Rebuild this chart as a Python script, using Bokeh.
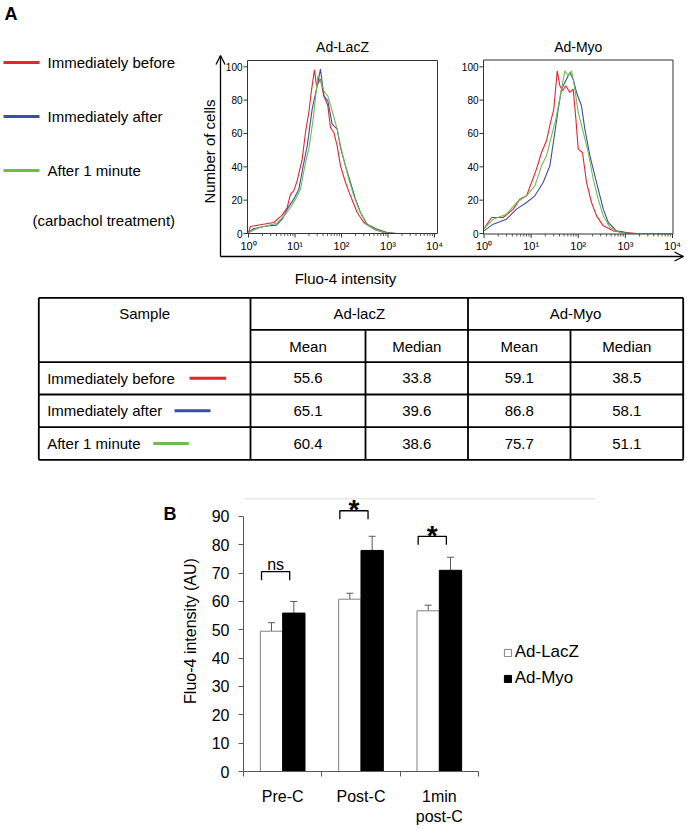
import math
from bokeh.plotting import figure
from bokeh.models import (Range1d, LogScale, LinearScale, Arrow, OpenHead, Legend, LegendItem,
                          FixedTicker, Whisker, TeeHead, ColumnDataSource)
from bokeh.layouts import column, row
from bokeh.embed import file_html
from bokeh.resources import INLINE
from bokeh.core.properties import value

FONT = "Liberation Sans"

# ---------------- data ----------------
series_names = ["Immediately before", "Immediately after", "After 1 minute"]
series_colors = ["#e0262e", "#3b4fa3", "#6fbd4b"]

# Panel Ad-LacZ histograms (Fluo-4 intensity, % of max cells)
lacz_before_x = [1.0, 1.1, 1.8, 3.5, 5.3, 6.8, 8.0, 9.4, 11.1, 14.3, 16.8, 19.8, 22.3, 26.2, 29.0,
                 35.3, 41.7, 50.8, 58.0, 68.4, 80.7, 95.1, 122, 156, 217, 302, 495, 813, 1334]
lacz_before_y = [0.6, 4.2, 5.2, 6.6, 11.0, 15.6, 23.6, 25.6, 31.6, 44.6, 60.6, 72.6, 84.6, 98.2, 88.6,
                 92.6, 82.6, 76.6, 63.6, 60.6, 52.6, 40.6, 30.6, 22.6, 12.6, 6.6, 2.6, 0.6, 0.0]
lacz_after_x = [1.0, 1.3, 2.5, 4.0, 5.3, 6.8, 9.4, 12.1, 15.5, 18.3, 23.4, 29.0, 35.3, 41.7, 50.8,
                63.0, 80.7, 95.1, 122, 156, 200, 256, 356, 585, 959, 1574]
lacz_after_y = [0.6, 3.0, 4.5, 5.0, 8.6, 14.6, 20.6, 26.6, 42.6, 52.6, 74.6, 86.6, 98.6, 82.6, 79.6,
                65.6, 62.6, 51.6, 40.6, 30.6, 20.6, 12.6, 5.6, 2.6, 0.6, 0.0]
lacz_1min_x = [1.0, 1.8, 4.1, 5.8, 8.0, 10.3, 13.1, 16.8, 19.8, 24.6, 31.0, 35.3, 43.1, 50.8, 63.0,
               80.7, 95.1, 116, 144, 184, 236, 328, 495, 959, 1574, 10000]
lacz_1min_y = [0.6, 3.8, 6.2, 10.6, 15.6, 20.6, 26.6, 42.6, 50.6, 68.6, 94.6, 91.6, 84.6, 82.6, 73.6,
               62.6, 52.6, 42.6, 32.6, 22.6, 14.6, 6.6, 2.6, 0.2, 0.0, 0.0]

# Panel Ad-Myo histograms
myo_before_x = [1.0, 1.44, 2.55, 4.16, 5.77, 7.98, 10.2, 13.0, 16.6, 21.2, 25.8, 30.3, 35.8, 40.7,
                46.5, 54.6, 66.4, 78.2, 89.1, 100, 123, 150, 191, 245, 340, 553, 1059, 1730]
myo_before_y = [3.0, 9.6, 9.6, 14.6, 20.6, 22.6, 30.6, 38.6, 48.6, 55.6, 66.6, 74.6, 97.6, 88.6,
                85.6, 88.6, 84.6, 86.6, 68.6, 50.6, 48.6, 30.6, 18.6, 10.6, 4.6, 1.6, 0.5, 0.0]
myo_after_x = [1.0, 1.57, 3.0, 4.9, 8.0, 12.0, 18.0, 25.0, 31.9, 37.6, 44.2, 52.0, 66.4, 78.2,
               92.0, 117, 138, 177, 208, 265, 340, 434, 650, 1247]
myo_after_y = [1.6, 5.6, 8.6, 14.6, 18.6, 22.6, 30.6, 40.6, 60.6, 74.6, 86.6, 90.6, 96.6, 92.6,
               84.6, 76.6, 62.6, 46.6, 38.6, 26.6, 14.6, 6.6, 1.6, 0.0]
myo_1min_x = [1.0, 1.57, 3.0, 4.9, 8.0, 12.0, 16.6, 21.2, 27.1, 33.5, 44.2, 52.0, 61.2, 72.1,
              84.7, 100, 128, 163, 208, 265, 340, 470, 766, 1247, 10000]
myo_1min_y = [3.0, 8.6, 11.6, 18.6, 22.6, 28.6, 40.6, 46.6, 58.6, 68.6, 86.6, 97.6, 94.6, 97.6,
              86.6, 72.6, 60.6, 48.6, 32.6, 20.6, 10.6, 3.6, 0.6, 0.0, 0.0]

hist_titles = ["Ad-LacZ", "Ad-Myo"]
hist_y_ticks = [0, 20, 40, 60, 80, 100]
hist_x_ticks = [1, 10, 100, 1000, 10000]
hist_x_labels = ["10\u2070", "10\u00b9", "10\u00b2", "10\u00b3", "10\u2074"]
hist_x_minor = [m * 10 ** k for k in range(4) for m in range(2, 10)]

# Table
table_groups = ["Ad-lacZ", "Ad-Myo"]
table_stats = ["Mean", "Median", "Mean", "Median"]
lacz_mean = [55.6, 65.1, 60.4]
lacz_median = [33.8, 39.6, 38.6]
myo_mean = [59.1, 86.8, 75.7]
myo_median = [38.5, 58.1, 51.1]

# Bar chart (B)
bar_categories = ["Pre-C", "Post-C", "1min\npost-C"]
bar_lacz = [49.5, 60.8, 56.7]
bar_lacz_err = [3.0, 2.1, 2.0]
bar_myo = [55.9, 78.0, 71.0]
bar_myo_err = [4.1, 5.0, 4.6]
sig_text = ["ns", "*", "*"]
sig_level = [70.5, 92.0, 83.0]
bar_y_ticks = [0, 10, 20, 30, 40, 50, 60, 70, 80, 90]

# ---------------- panel A canvas (reference pixel space) ----------------
PAGE_W = 687
A_TOP, A_BOT = 0, 490
A_H = A_BOT - A_TOP

pA = figure(width=PAGE_W, height=A_H, x_range=Range1d(0, PAGE_W), y_range=Range1d(A_BOT, A_TOP),
            x_axis_location=None, y_axis_location=None, min_border=0, toolbar_location=None,
            output_backend="svg", outline_line_color=None)
pA.frame_align = False
pA.grid.visible = False

COUNT_ZERO = 233.0
COUNT_PX = 1.667
pA.extra_y_ranges = {"cnt": Range1d((COUNT_ZERO - A_BOT) / COUNT_PX, (COUNT_ZERO - A_TOP) / COUNT_PX)}
pA.extra_y_scales = {"cnt": LinearScale()}

panels = [
    dict(key="lacz", title=hist_titles[0], left=247, right=437, top=60, bottom=233, d0=248, d4=434,
         curves=[(lacz_before_x, lacz_before_y), (lacz_after_x, lacz_after_y), (lacz_1min_x, lacz_1min_y)]),
    dict(key="myo", title=hist_titles[1], left=483, right=672.5, top=59.5, bottom=233.5, d0=483.5, d4=672,
         curves=[(myo_before_x, myo_before_y), (myo_after_x, myo_after_y), (myo_1min_x, myo_1min_y)]),
]
xr, xsc = {}, {}
for pn in panels:
    dpx = (pn["d4"] - pn["d0"]) / 4.0
    lo = (0 - pn["d0"]) / dpx
    hi = (PAGE_W - pn["d0"]) / dpx
    xr[pn["key"]] = Range1d(10 ** lo, 10 ** hi)
    xsc[pn["key"]] = LogScale()
pA.extra_x_ranges = xr
pA.extra_x_scales = xsc

txt = dict(text_font=value(FONT), text_color="black")

for pn in panels:
    k = pn["key"]
    for (cx, cy), col in zip(pn["curves"], series_colors):
        pA.line(cx, cy, x_range_name=k, y_range_name="cnt", line_color=col, line_width=1.1)
    pA.quad(left=[pn["left"]], right=[pn["right"]], top=[pn["top"]], bottom=[pn["bottom"]],
            fill_color=None, line_color="#333333", line_width=1)
    pA.segment(x0=hist_x_ticks, x1=hist_x_ticks, y0=[pn["bottom"]] * 5, y1=[pn["bottom"] + 4] * 5,
               x_range_name=k, line_color="#333333", line_width=1)
    pA.segment(x0=hist_x_minor, x1=hist_x_minor, y0=[pn["bottom"]] * len(hist_x_minor),
               y1=[pn["bottom"] + 2.5] * len(hist_x_minor), x_range_name=k, line_color="#333333", line_width=0.8)
    pA.text(x=hist_x_ticks, y=[pn["bottom"] + 12] * 5, text=hist_x_labels, x_range_name=k,
            text_align="center", text_baseline="middle", text_font_size="11px", **txt)
    pA.segment(x0=[pn["left"] - 4] * 6, x1=[pn["left"]] * 6, y0=hist_y_ticks, y1=hist_y_ticks,
               y_range_name="cnt", line_color="#333333", line_width=1)
    pA.text(x=[pn["left"] - 5] * 6, y=hist_y_ticks, text=[str(t) for t in hist_y_ticks], y_range_name="cnt",
            text_align="right", text_baseline="middle", text_font_size="10px", **txt)
    pA.text(x=[(pn["left"] + pn["right"]) / 2], y=[46], text=[pn["title"]],
            text_align="center", text_baseline="middle", text_font_size="14px", **txt)

# big axes arrows
pA.add_layout(Arrow(end=OpenHead(size=9, line_width=1.3, line_color="black"), x_start=220, y_start=256,
                    x_end=220, y_end=55, line_width=1.3, line_color="black"))
pA.add_layout(Arrow(end=OpenHead(size=9, line_width=1.3, line_color="black"), x_start=220, y_start=256,
                    x_end=683, y_end=256, line_width=1.3, line_color="black"))
pA.text(x=[209], y=[151], text=["Number of cells"], angle=math.pi / 2, text_align="center",
        text_baseline="middle", text_font_size="15px", **txt)
pA.text(x=[345], y=[278], text=["Fluo-4 intensity"], text_align="center", text_baseline="middle",
        text_font_size="15px", **txt)

# panel letter and legend
pA.text(x=[4], y=[13], text=["A"], text_align="left", text_baseline="middle", text_font_size="18px",
        text_font_style="bold", **txt)
legend_y = [62, 116, 170]
pA.segment(x0=[3] * 3, x1=[39] * 3, y0=legend_y, y1=legend_y, line_color=series_colors, line_width=3)
pA.text(x=[47] * 3, y=legend_y, text=series_names, text_align="left", text_baseline="middle",
        text_font_size="15px", **txt)
pA.text(x=[32], y=[220], text=["(carbachol treatment)"], text_align="left", text_baseline="middle",
        text_font_size="15px", **txt)

# table
T_X = [38.3, 250, 365, 467.5, 570, 682.7]
T_Y = [297.3, 329.3, 361.7, 394, 426.7, 459.3]
hx0 = [T_X[0], T_X[1]] + [T_X[0]] * 4
hy = [T_Y[0], T_Y[1]] + T_Y[2:]
pA.segment(x0=hx0, x1=[T_X[5]] * 6, y0=hy, y1=hy, line_color="black", line_width=1.8)
vx = [T_X[0], T_X[1], T_X[3], T_X[5], T_X[2], T_X[4]]
vy0 = [T_Y[0]] * 4 + [T_Y[1]] * 2
pA.segment(x0=vx, x1=vx, y0=vy0, y1=[T_Y[5]] * 6, line_color="black", line_width=1.8)
r0 = (T_Y[0] + T_Y[1]) / 2
r1 = (T_Y[1] + T_Y[2]) / 2
pA.text(x=[(T_X[0] + T_X[1]) / 2, (T_X[1] + T_X[3]) / 2, (T_X[3] + T_X[5]) / 2], y=[r0] * 3,
        text=["Sample"] + table_groups, text_align="center", text_baseline="middle", text_font_size="15px", **txt)
pA.text(x=[(T_X[i] + T_X[i + 1]) / 2 for i in range(1, 5)], y=[r1] * 4, text=table_stats,
        text_align="center", text_baseline="middle", text_font_size="15px", **txt)
row_y = [(T_Y[i] + T_Y[i + 1]) / 2 for i in range(2, 5)]
pA.text(x=[46.7] * 3, y=row_y, text=series_names, text_align="left", text_baseline="middle",
        text_font_size="15px", **txt)
pA.segment(x0=[189, 174, 152.7], x1=[225.7, 210, 188.3], y0=row_y, y1=row_y, line_color=series_colors,
           line_width=3)
cols = [lacz_mean, lacz_median, myo_mean, myo_median]
for ci, colvals in enumerate(cols):
    cxm = (T_X[ci + 1] + T_X[ci + 2]) / 2
    pA.text(x=[cxm] * 3, y=row_y, text=[f"{v:.1f}" for v in colvals], text_align="center",
            text_baseline="middle", text_font_size="15px", **txt)

# ---------------- panel B ----------------
B_TOP, B_BOT = 490, 830
B_H = B_BOT - B_TOP
LEFT_W = 178                      # width of the strip holding the panel letter
AXIS_X, CAT_PX, ZERO_Y, UNIT_PX = 243.0, 78.33, 770.7, 2.834
border_left = round(AXIS_X - LEFT_W)
bottom_px = round(B_BOT - ZERO_Y)
frame_h = B_H - bottom_px
x_end = (PAGE_W - AXIS_X) / CAT_PX
y_end = frame_h / UNIT_PX

pL = figure(width=LEFT_W, height=B_H, x_range=Range1d(0, LEFT_W), y_range=Range1d(B_BOT, B_TOP),
            x_axis_location=None, y_axis_location=None, min_border=0, toolbar_location=None,
            output_backend="svg", outline_line_color=None)
pL.frame_align = False
pL.grid.visible = False
pL.text(x=[163], y=[513], text=["B"], text_align="left", text_baseline="middle",
        text_font_size="18px", text_font_style="bold", **txt)

pB = figure(width=PAGE_W - LEFT_W, height=B_H, x_range=Range1d(0, x_end), y_range=Range1d(0, y_end),
            min_border_left=border_left, min_border_right=0, min_border_top=0, min_border_bottom=bottom_px,
            toolbar_location=None, output_backend="svg", outline_line_color=None)
pB.frame_align = False
pB.grid.visible = False

def bx_(ref_x):
    return (ref_x - AXIS_X) / CAT_PX

def by_(ref_y):
    return (ZERO_Y - ref_y) / UNIT_PX

# faint chart-area border (top edge)
pB.segment(x0=[0], x1=[bx_(595)], y0=[by_(498)], y1=[by_(498)], line_color="#dddddd", line_width=1)

BAR_W = 0.285
centers = [i + 0.5 for i in range(len(bar_categories))]
src = ColumnDataSource(dict(
    xl=[c - BAR_W / 2 for c in centers], xm=[c + BAR_W / 2 for c in centers],
    lacz=bar_lacz, myo=bar_myo,
    lacz_up=[v + e for v, e in zip(bar_lacz, bar_lacz_err)],
    myo_up=[v + e for v, e in zip(bar_myo, bar_myo_err)],
))
rw = pB.vbar(x="xl", top="lacz", bottom=0, width=BAR_W, source=src, fill_color="white",
             line_color="#808080", line_width=1)
rb = pB.vbar(x="xm", top="myo", bottom=0, width=BAR_W, source=src, fill_color="black",
             line_color="black", line_width=1)
for base, lo, up in [("xl", "lacz", "lacz_up"), ("xm", "myo", "myo_up")]:
    pB.add_layout(Whisker(base=base, lower=lo, upper=up, source=src, dimension="height",
                          lower_head=None, upper_head=TeeHead(size=7, line_color="#595959", line_width=1),
                          line_color="#595959", line_width=1))

# significance brackets
bxs, bys = [], []
for c, lvl in zip(centers, sig_level):
    bxs.append([c - 0.27, c - 0.27, c + 0.09, c + 0.09])
    bys.append([lvl - 3, lvl, lvl, lvl - 3])
pB.multi_line(bxs, bys, line_color="black", line_width=1.3)
for c, lvl, s in zip(centers, sig_level, sig_text):
    if s == "ns":
        pB.text(x=[c - 0.09], y=[lvl + 2.4], text=[s], text_align="center", text_baseline="alphabetic",
                text_font_size="16px", **txt)
    else:
        pB.text(x=[c - 0.09], y=[lvl + 0.3], text=[s], text_align="center", text_baseline="alphabetic",
                text_font_size="28px", text_font_style="bold", **txt)

# axes
pB.xaxis.ticker = FixedTicker(ticks=centers, minor_ticks=[0, 1, 2, 3])
pB.xaxis.major_label_overrides = {c: lab for c, lab in zip(centers, bar_categories)}
pB.xaxis.bounds = (0, len(bar_categories))
pB.xaxis.major_tick_out = 0
pB.xaxis.major_tick_in = 0
pB.xaxis.minor_tick_out = 5
pB.xaxis.minor_tick_in = 0
pB.xaxis.major_label_standoff = 11
pB.yaxis.ticker = FixedTicker(ticks=bar_y_ticks)
pB.yaxis.bounds = (0, 90)
pB.yaxis.major_tick_out = 5
pB.yaxis.major_tick_in = 0
pB.yaxis.minor_tick_out = 0
pB.yaxis.minor_tick_in = 0
pB.yaxis.major_label_standoff = 9
pB.yaxis.axis_label = "Fluo-4 intensity (AU)"
pB.yaxis.axis_label_standoff = 10
for ax in (pB.xaxis, pB.yaxis):
    ax.axis_line_color = "#595959"
    ax.major_tick_line_color = "#595959"
    ax.minor_tick_line_color = "#595959"
    ax.major_label_text_font = FONT
    ax.major_label_text_font_size = "16px"
    ax.major_label_text_color = "black"
    ax.axis_label_text_font = FONT
    ax.axis_label_text_font_size = "16px"
    ax.axis_label_text_font_style = "normal"
    ax.axis_label_text_color = "black"

legend = Legend(items=[LegendItem(label="Ad-LacZ", renderers=[rw]), LegendItem(label="Ad-Myo", renderers=[rb])],
                location=(502.7 - AXIS_X, ZERO_Y - 687.7),
                padding=0, margin=0, spacing=6, glyph_width=9, glyph_height=9, label_standoff=3,
                label_height=20, label_text_font=FONT, label_text_font_size="17px", label_text_color="black",
                border_line_color=None, background_fill_alpha=0)
pB.add_layout(legend)

layout = column(pA, row(pL, pB, spacing=0), spacing=0)
open("out.html", "w").write(file_html(layout, INLINE, title="Fluo-4"))
